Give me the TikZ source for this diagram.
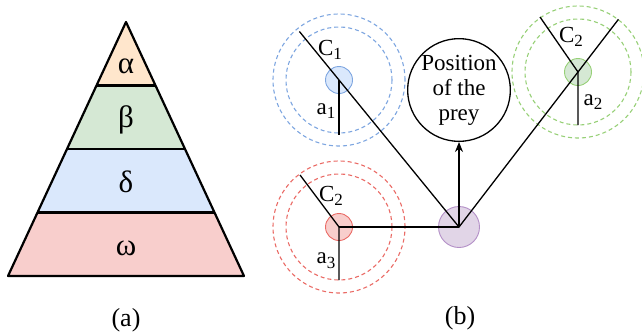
\documentclass[tikz,border=0pt]{standalone}
\usepackage{fontspec}
\setmainfont{Liberation Serif}
\usetikzlibrary{arrows.meta,calc,positioning}
\definecolor{alf}{HTML}{FFE6CC}
\definecolor{bet}{HTML}{D5E8D4}
\definecolor{del}{HTML}{DAE8FC}
\definecolor{ome}{HTML}{F8CECC}
\definecolor{bline}{HTML}{7EA6E0}
\definecolor{gline}{HTML}{97D077}
\definecolor{rline}{HTML}{EA6B66}
\definecolor{pfill}{HTML}{E1D5E7}
\definecolor{pline}{HTML}{B38FC7}
\newcommand{\lowsub}[1]{\raisebox{-0.45ex}{\fontsize{17}{17}\selectfont #1}}

\begin{document}
\begin{tikzpicture}[x=1pt,y=-1pt,
  band/.style={draw=black,line width=2.2pt,line join=round},
  ring/.style={line width=1.1pt,dash pattern=on 4pt off 3pt},
  wolf/.style={circle,draw,line width=0.9pt,minimum size=27pt,inner sep=0pt},
  link/.style={line width=1.3pt},
  lbl/.style={font=\fontsize{23}{25}\selectfont,inner sep=0pt},
  greek/.style={font=\fontsize{31}{31}\selectfont,inner sep=0pt}]
  \useasboundingbox (0,0) rectangle (642,335);
  % hierarchy pyramid
  \coordinate (apex) at (126,22);
  \coordinate (bl) at (8,276);
  \coordinate (br) at (244,276);
  \foreach \t/\s/\c in {0/0.25/alf,0.25/0.5/bet,0.5/0.75/del,0.75/1/ome}
    \fill[\c] ($(apex)!\t!(bl)$) -- ($(apex)!\s!(bl)$) -- ($(apex)!\s!(br)$) -- ($(apex)!\t!(br)$) -- cycle;
  \foreach \t in {0.25,0.5,0.75}
    \draw[band] ($(apex)!\t!(bl)$) -- ($(apex)!\t!(br)$);
  \draw[band] (apex) -- (bl) -- (br) -- cycle;
  \node[greek] (ga) at (126,66) {α};
  \node[greek] (gb) at (126,120) {β};
  \node[greek] (gd) at (126,182) {δ};
  \node[greek] (gw) at (126,248) {ω};
  \node[font=\fontsize{26}{26}\selectfont] (capa) at (126,320) {(a)};
  % wolves around the prey
  \node[wolf,fill=del,draw=bline] (wa) at (339,80) {};
  \node[wolf,fill=bet,draw=gline] (wb) at (578,72) {};
  \node[wolf,fill=ome,draw=rline] (wd) at (339,227) {};
  \node[wolf,fill=pfill,draw=pline,minimum size=41pt] (wo) at (459,227) {};
  \foreach \w/\c in {wa/bline,wb/gline,wd/rline} {
    \draw[ring,\c] (\w.center) circle[radius=53pt];
    \draw[ring,\c] (\w.center) circle[radius=66pt];
  }
  \node[circle,draw,line width=1.3pt,minimum size=95pt,inner sep=0pt,align=center,
    font=\fontsize{23}{25}\selectfont] (prey) at (459,90) {Position\\of the\\prey};
  \coordinate (ea) at ($(wo.center)!1.33!(wa.center)$);
  \coordinate (eb) at ($(wo.center)!1.34!(wb.center)$);
  \coordinate (cb) at (540,17);
  \coordinate (cd) at (300,175);
  \coordinate (va) at (339,135);
  \coordinate (vb) at (578,125);
  \coordinate (vd) at (339,280);
  \draw[link] (ea) -- (wo.center) -- (eb);
  \draw[link] (wd.center) -- (wo.center);
  \draw[link] (cb) -- (wb.center) -- (vb);
  \draw[link] (cd) -- (wd.center) -- (vd);
  \draw[link] (wa.center) -- (va);
  \draw[link,-{Stealth[length=10pt,width=8pt]}] (wo.center) -- (prey.south);
  \node[lbl] (la) at (330,50) {C\lowsub{1}};
  \node[lbl] (ma) at (326,111) {a\lowsub{1}};
  \node[lbl] (lb) at (571,37) {C\lowsub{2}};
  \node[lbl] (mb) at (593,102) {a\lowsub{2}};
  \node[lbl] (ld) at (331,196) {C\lowsub{2}};
  \node[lbl] (md) at (326,261) {a\lowsub{3}};
  \node[font=\fontsize{26}{26}\selectfont] (capb) at (460,318) {(b)};
\end{tikzpicture}
\end{document}
